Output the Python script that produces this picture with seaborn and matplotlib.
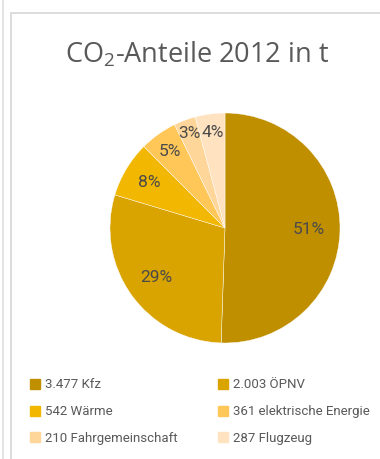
import matplotlib
matplotlib.use("Agg")
import matplotlib.pyplot as plt
from matplotlib import font_manager
from matplotlib.lines import Line2D
from matplotlib.patches import Rectangle
import numpy as np
import seaborn as sns

# data
categories = ["Kfz", "ÖPNV", "Wärme", "elektrische Energie", "Fahrgemeinschaft", "Flugzeug"]
values = [3477, 2003, 542, 361, 210, 287]
value_labels = ["3.477", "2.003", "542", "361", "210", "287"]
colors = ["#BF8F00", "#D9A300", "#F2B700", "#FFC658", "#FFD699", "#FFE2C0"]
label_dist = [0.73, 0.74, 0.77, 0.82, 0.88, 0.84]

sns.set_theme(style="white")
names = {f.name for f in font_manager.fontManager.ttflist}
legend_font = "Liberation Sans Narrow" if "Liberation Sans Narrow" in names else "Roboto"
plt.rcParams["font.family"] = ["Open Sans", "DejaVu Sans"]
plt.rcParams["mathtext.fontset"] = "custom"
plt.rcParams["mathtext.rm"] = "Open Sans"

fig = plt.figure(figsize=(3.8, 4.59), dpi=100)

# card frame
fig.patches.append(Rectangle((2 / 380, 0), 1.5 / 380, 1, transform=fig.transFigure,
                             color="#e3e3e3", lw=0))
fig.patches.append(Rectangle((9.5 / 380, 0), 2 / 380, 1 - 12 / 459, transform=fig.transFigure,
                             color="#dcdcdc", lw=0))
fig.patches.append(Rectangle((9.5 / 380, 1 - 14 / 459), 1, 2 / 459, transform=fig.transFigure,
                             color="#dcdcdc", lw=0))

fig.text(197 / 380, 1 - 55 / 459, r"CO$_\mathrm{2}$-Anteile 2012 in t", ha="center", va="center",
         fontsize=19.5, color="#595959")

ax = fig.add_axes([110 / 380, 1 - 343 / 459, 230 / 380, 230 / 459])
wedges, texts, autotexts = ax.pie(values, colors=colors, startangle=90, counterclock=False,
                                  autopct="%.0f%%", radius=1,
                                  wedgeprops=dict(edgecolor="white", linewidth=0.3),
                                  textprops=dict(color="#4a4a4a", fontsize=12.5,
                                                 family=legend_font))
for w, t, d in zip(wedges, autotexts, label_dist):
    ang = np.deg2rad((w.theta1 + w.theta2) / 2)
    t.set_position((d * np.cos(ang), d * np.sin(ang)))
ax.set_xlim(-1, 1)
ax.set_ylim(-1, 1)
ax.set_aspect("equal")
ax.axis("off")

handles = [Line2D([], [], marker="s", linestyle="", markersize=7, color=c) for c in colors]
labels = [f"{v} {c}" for v, c in zip(value_labels, categories)]
order = [0, 2, 4, 1, 3, 5]
fig.legend([handles[i] for i in order], [labels[i] for i in order], ncol=2,
           loc="upper left", bbox_to_anchor=(24 / 380, 1 - 373 / 459), frameon=False,
           handlelength=0.8, handletextpad=0.4, columnspacing=3.0, labelspacing=1.05,
           prop=dict(family=legend_font, size=9.5), labelcolor="#595959", borderaxespad=0)

fig.savefig("out.png", dpi=100)
